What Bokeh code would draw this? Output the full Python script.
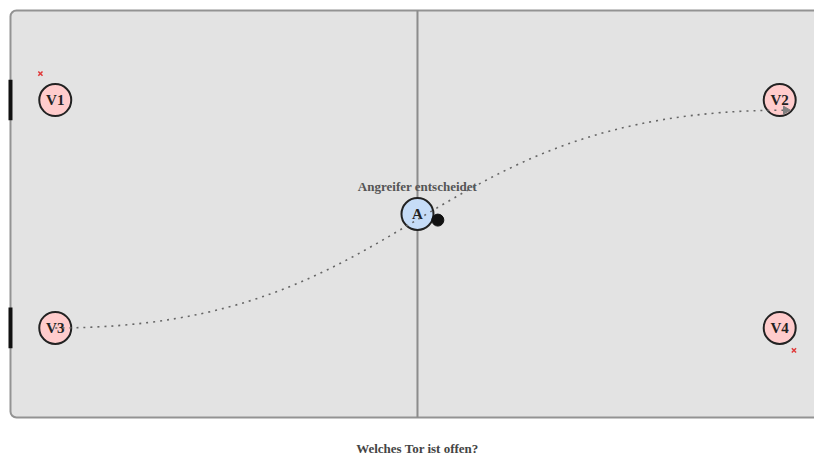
from bokeh.plotting import figure
from bokeh.embed import file_html
from bokeh.resources import INLINE
from bokeh.core.properties import value
from bokeh.models import Range1d
import math

# ---- data (field units: 40 x 20) ----
field_w = 40
field_h = 20
defender_names = ["V1", "V2", "V3", "V4"]
defender_x = [2.2, 37.8, 2.2, 37.8]
defender_y = [15.6, 15.6, 4.4, 4.4]
attacker_name = ["A"]
attacker_x = [20.0]
attacker_y = [10.0]
ball_x = [21.0]
ball_y = [9.7]
goal_x = [0.0, 0.0]
goal_y = [15.6, 4.4]
goal_len = 2.0
cross_x = [1.47, 38.5]
cross_y = [16.9, 3.3]
# pass path (cubic bezier): start, end, two control points
path_start = (2.2, 4.4)
path_end = (38.1, 15.1)
path_c0 = (20.0, 4.4)
path_c1 = (20.0, 15.1)
decision_label = "Angreifer entscheidet"
decision_pos = (20.0, 11.35)
title_text = "Welches Tor ist offen?"
title_pos = (20.0, -1.52)

W, H = 814, 455
p = figure(width=W, height=H, output_backend="svg", toolbar_location=None,
           x_range=Range1d(-0.491, 39.51), y_range=Range1d(-1.867, 20.49),
           min_border=0)
p.axis.visible = False
p.grid.visible = False
p.outline_line_color = None
p.background_fill_color = "white"
p.border_fill_color = "white"

serif = value("Liberation Serif")

# field
p.quad(left=[0], right=[field_w], bottom=[0], top=[field_h],
       fill_color="#e3e3e3", line_color="#939393", line_width=2,
       border_radius=6)
# center line
p.segment(x0=[field_w / 2], y0=[0], x1=[field_w / 2], y1=[field_h],
          line_color="#8c8c8c", line_width=2)
# goals
p.segment(x0=goal_x, y0=[g - goal_len / 2 for g in goal_y],
          x1=goal_x, y1=[g + goal_len / 2 for g in goal_y],
          line_color="#111111", line_width=4)

# defenders
p.circle(x=defender_x, y=defender_y, radius=16, radius_units="screen",
         fill_color="#ffcccc", line_color="#222222", line_width=2)
p.text(x=defender_x, y=defender_y, text=defender_names,
       text_font=serif, text_font_style="bold", text_font_size="15px",
       text_color="#222222", text_align="center", text_baseline="middle")

# attacker
p.circle(x=attacker_x, y=attacker_y, radius=16, radius_units="screen",
         fill_color="#c6dcf7", line_color="#222222", line_width=2)
p.text(x=attacker_x, y=attacker_y, text=attacker_name,
       text_font=serif, text_font_style="bold", text_font_size="15px",
       text_color="#222222", text_align="center", text_baseline="middle")

# decision label
p.text(x=[decision_pos[0]], y=[decision_pos[1]], text=[decision_label],
       text_font=serif, text_font_style="bold", text_font_size="13px",
       text_color="#555555", text_align="center", text_baseline="middle")

# pass path
p.bezier(x0=[path_start[0]], y0=[path_start[1]], x1=[path_end[0]], y1=[path_end[1]],
         cx0=[path_c0[0]], cy0=[path_c0[1]], cx1=[path_c1[0]], cy1=[path_c1[1]],
         line_color="#666666", line_width=1.6, line_dash="2 5")
p.scatter(x=[path_end[0]], y=[path_end[1]], marker="triangle", size=8,
          angle=-math.pi / 2, fill_color="#808080", line_color="#808080")

# ball
p.circle(x=ball_x, y=ball_y, radius=6, radius_units="screen",
         fill_color="#111111", line_color="#111111")

# red crosses
p.scatter(x=cross_x, y=cross_y, marker="x", size=6,
          line_color="#e03a3a", line_width=1.5)

# title
p.text(x=[title_pos[0]], y=[title_pos[1]], text=[title_text],
       text_font=serif, text_font_style="bold", text_font_size="13px",
       text_color="#444444", text_align="center", text_baseline="middle")

open("out.html", "w").write(file_html(p, INLINE))
